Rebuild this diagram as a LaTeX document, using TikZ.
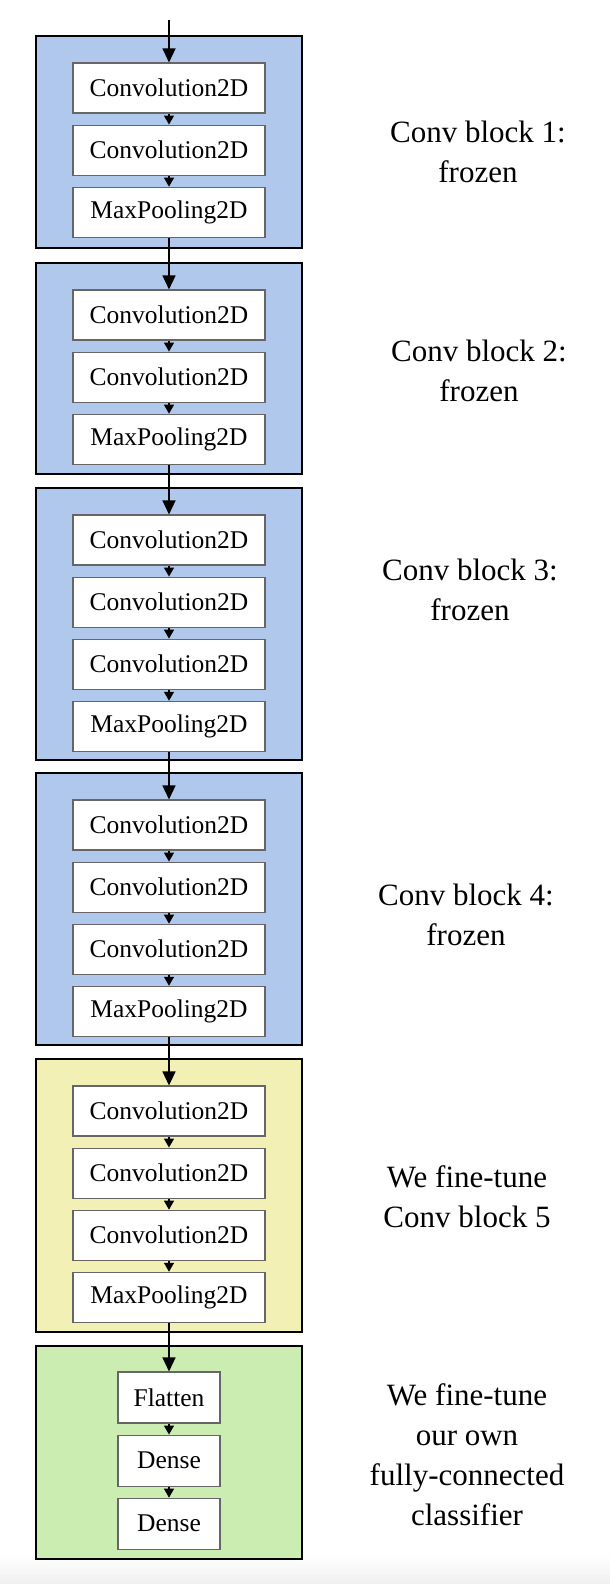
\documentclass[tikz,border=0pt]{standalone}
\usepackage{fontspec}
\setmainfont{Liberation Serif}
\usetikzlibrary{positioning,arrows.meta}

\definecolor{frozenblue}{RGB}{176,200,236}
\definecolor{tuneyellow}{RGB}{242,240,180}
\definecolor{densegreen}{RGB}{204,237,178}

\tikzset{
  layer/.style={draw=black!60, fill=white, line width=1.1pt, minimum width=192pt, minimum height=50pt, inner sep=0pt, font=\fontsize{25.5}{25.5}\selectfont},
  small layer/.style={layer, minimum width=102pt, minimum height=51pt},
  block/.style={draw=black, line width=2.5pt},
  flow/.style={line width=1.3pt, -{Triangle[width=10pt,length=9pt]}},
  big flow/.style={line width=1.3pt, -{Triangle[width=13pt,length=14pt]}},
  note/.style={align=center, font=\fontsize{31}{40}\selectfont}
}

\begin{document}
\begin{tikzpicture}[x=1pt,y=-1pt,node distance=11pt]
	\useasboundingbox (0,0) rectangle (610,1584);
	\shade[top color=white, bottom color=black!6] (0,1555) rectangle (610,1584);

	% blocks
	\draw[block, fill=frozenblue] (36,36) rectangle (302,248);
	\draw[block, fill=frozenblue] (36,263) rectangle (302,474);
	\draw[block, fill=frozenblue] (36,488) rectangle (302,760);
	\draw[block, fill=frozenblue] (36,773) rectangle (302,1045);
	\draw[block, fill=tuneyellow] (36,1059) rectangle (302,1332);
	\draw[block, fill=densegreen] (36,1346) rectangle (302,1559);

	% block 1
	\node[layer] (conv11) at (169,88) {Convolution2D};
	\node[layer, below=of conv11] (conv12) {Convolution2D};
	\node[layer, below=of conv12] (pool1) {MaxPooling2D};
	% block 2
	\node[layer] (conv21) at (169,315) {Convolution2D};
	\node[layer, below=of conv21] (conv22) {Convolution2D};
	\node[layer, below=of conv22] (pool2) {MaxPooling2D};
	% block 3
	\node[layer] (conv31) at (169,540) {Convolution2D};
	\node[layer, below=of conv31] (conv32) {Convolution2D};
	\node[layer, below=of conv32] (conv33) {Convolution2D};
	\node[layer, below=of conv33] (pool3) {MaxPooling2D};
	% block 4
	\node[layer] (conv41) at (169,825) {Convolution2D};
	\node[layer, below=of conv41] (conv42) {Convolution2D};
	\node[layer, below=of conv42] (conv43) {Convolution2D};
	\node[layer, below=of conv43] (pool4) {MaxPooling2D};
	% block 5
	\node[layer] (conv51) at (169,1111) {Convolution2D};
	\node[layer, below=of conv51] (conv52) {Convolution2D};
	\node[layer, below=of conv52] (conv53) {Convolution2D};
	\node[layer, below=of conv53] (pool5) {MaxPooling2D};
	% classifier
	\node[small layer] (flat) at (169,1397.5) {Flatten};
	\node[small layer, below=of flat] (dense1) {Dense};
	\node[small layer, below=of dense1] (dense2) {Dense};

	% arrows
	\coordinate (input) at (169,20);
	\draw[big flow] (input) -- (conv11);
	\foreach \a/\b in {conv11/conv12, conv12/pool1, conv21/conv22, conv22/pool2,
	                   conv31/conv32, conv32/conv33, conv33/pool3,
	                   conv41/conv42, conv42/conv43, conv43/pool4,
	                   conv51/conv52, conv52/conv53, conv53/pool5,
	                   flat/dense1, dense1/dense2}
		\draw[flow] (\a) -- (\b);
	\foreach \a/\b in {pool1/conv21, pool2/conv31, pool3/conv41, pool4/conv51, pool5/flat}
		\draw[big flow] (\a) -- (\b);

	% labels
	\node[note] (note1) at (478,152) {Conv block 1:\\frozen};
	\node[note] (note2) at (479,371) {Conv block 2:\\frozen};
	\node[note] (note3) at (470,590) {Conv block 3:\\frozen};
	\node[note] (note4) at (466,915) {Conv block 4:\\frozen};
	\node[note] (note5) at (467,1197) {We fine-tune\\Conv block 5};
	\node[note] (note6) at (467,1455) {We fine-tune\\our own\\fully-connected\\classifier};
\end{tikzpicture}
\end{document}
